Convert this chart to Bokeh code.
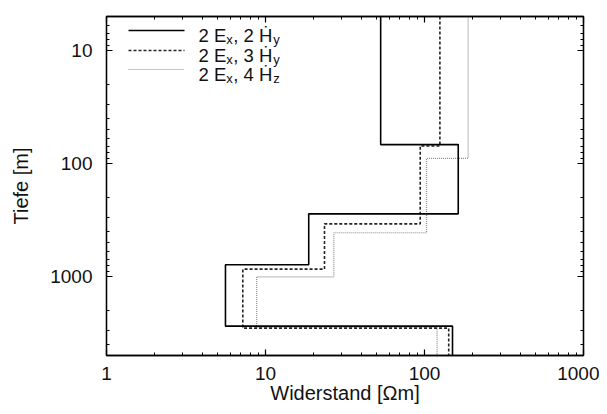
import math
from bokeh.plotting import figure
from bokeh.models import Range1d, FixedTicker, LogAxis, BasicTickFormatter
from bokeh.embed import file_html
from bokeh.resources import INLINE
from bokeh.core.properties import value

# ---------------- data ----------------
# layered resistivity models: layer resistivities [Ohm m] and layer boundaries [m]
rho_22 = [53, 163, 18.7, 5.6, 150]        # 2 Ex, 2 Hy  (solid)
depth_22 = [68, 279, 788, 2750]
rho_23 = [125, 94, 23.5, 7.2, 142]        # 2 Ex, 3 Hy  (dashed)
depth_23 = [70, 342, 861, 2865]
rho_24 = [188, 103, 26.9, 8.8, 120]       # 2 Ex, 4 Hz  (dotted)
depth_24 = [90, 410, 1007, 2812]

legend_main1 = ["2 E", "2 E", "2 E"]
legend_sub1 = ["x", "x", "x"]
legend_main2 = [", 2 \u1E22", ", 3 \u1E22", ", 4 \u1E22"]
legend_sub2 = ["y", "y", "z"]

x_ticks = [1, 10, 100, 1000]
y_ticks = [10, 100, 1000]
x_minor = [2, 3, 4, 5, 6, 7, 8, 9, 20, 30, 40, 50, 60, 70, 80, 90,
           200, 300, 400, 500, 600, 700, 800, 900]
y_minor = [5, 6, 7, 8, 9, 20, 30, 40, 50, 60, 70, 80, 90,
           200, 300, 400, 500, 600, 700, 800, 900, 2000, 3000, 4000, 5000]
X_RANGE = (1, 1000)
Y_RANGE = (5, 5000)   # depth, top to bottom

x_title = "Widerstand [\u03A9m]"
y_title = "Tiefe [m]"

# ---------------- figure ----------------
FONT = "Liberation Sans"
W, H = 599, 406
ML, MR, MT, MB = 106, 16, 16, 51
FW, FH = W - ML - MR, H - MT - MB

p = figure(width=W, height=H, output_backend="svg", toolbar_location=None,
           x_axis_type="log", y_axis_type="log",
           x_range=Range1d(*X_RANGE), y_range=Range1d(Y_RANGE[1], Y_RANGE[0]),
           min_border_left=ML, min_border_right=MR, min_border_top=MT,
           min_border_bottom=MB)
p.background_fill_color = "white"
p.border_fill_color = "white"
p.outline_line_color = "black"
p.outline_line_width = 1.3
p.grid.visible = False


def step(rho, depth):
    d = [Y_RANGE[0]] + list(depth) + [Y_RANGE[1]]
    xs, ys = [], []
    for i, r in enumerate(rho):
        xs += [r, r]
        ys += [d[i], d[i + 1]]
    return xs, ys


xs, ys = step(rho_24, depth_24)
p.line(xs, ys, line_color="#8a8a8a", line_width=1.2, line_dash="1 1")
xs, ys = step(rho_23, depth_23)
p.line(xs, ys, line_color="#222222", line_width=1.6, line_dash="3 2")
xs, ys = step(rho_22, depth_22)
p.line(xs, ys, line_color="black", line_width=1.6)


# ---------------- axes ----------------
def style_axis(ax, ticks, minor, show_labels):
    ax.ticker = FixedTicker(ticks=ticks, minor_ticks=minor)
    ax.formatter = BasicTickFormatter()
    ax.major_tick_in = 6
    ax.major_tick_out = 0
    ax.minor_tick_in = 3
    ax.minor_tick_out = 0
    ax.axis_line_color = "black"
    ax.axis_line_width = 1.3
    ax.major_tick_line_width = 1.2
    ax.minor_tick_line_width = 1.0
    ax.major_label_text_font = FONT
    ax.major_label_text_font_size = "19px"
    ax.major_label_text_color = "#111111" if show_labels else None
    ax.axis_label_text_font = FONT
    ax.axis_label_text_font_style = "normal"
    ax.axis_label_text_font_size = "20px"
    ax.axis_label_text_color = "#111111"


style_axis(p.xaxis[0], x_ticks, x_minor, True)
style_axis(p.yaxis[0], y_ticks, y_minor, True)
p.xaxis[0].axis_label = x_title
p.yaxis[0].axis_label = y_title
p.xaxis[0].major_label_standoff = 11
p.xaxis[0].axis_label_standoff = -1
p.yaxis[0].major_label_standoff = 14
p.yaxis[0].axis_label_standoff = 15

top = LogAxis()
style_axis(top, x_ticks, x_minor, False)
top.major_label_standoff = 0
right = LogAxis()
style_axis(right, y_ticks, y_minor, False)
right.major_label_standoff = 0
p.add_layout(top, "above")
p.add_layout(right, "right")


# ---------------- legend (manual, for sub-/dot-accented labels) ----------------
def fx(px):
    a, b = math.log10(X_RANGE[0]), math.log10(X_RANGE[1])
    return 10 ** (a + px / FW * (b - a))


def fy(py):
    a, b = math.log10(Y_RANGE[0]), math.log10(Y_RANGE[1])
    return 10 ** (a + py / FH * (b - a))


row_py = [14, 34, 53]           # sample-line rows, px below frame top
styles = [dict(line_color="black", line_width=1.6),
          dict(line_color="#222222", line_width=1.6, line_dash="3 2"),
          dict(line_color="#8a8a8a", line_width=1.2, line_dash="1 1")]
for r, st in zip(row_py, styles):
    p.line([fx(22), fx(78)], [fy(r), fy(r)], **st)

base = [r + 5 for r in row_py]
sub = [b + 4 for b in base]
x0 = 92
w_main1 = 27.8
w_sub = 7.0
w_main2 = 40.0

common = dict(text_font=value(FONT), text_color="#111111",
              text_align="left", text_baseline="alphabetic")
p.text([fx(x0)] * 3, [fy(b) for b in base], text=legend_main1,
       text_font_size="18.5px", **common)
p.text([fx(x0 + w_main1)] * 3, [fy(s) for s in sub], text=legend_sub1,
       text_font_size="13px", **common)
p.text([fx(x0 + w_main1 + w_sub)] * 3, [fy(b) for b in base], text=legend_main2,
       text_font_size="18.5px", **common)
p.text([fx(x0 + w_main1 + w_sub + w_main2)] * 3, [fy(s) for s in sub],
       text=legend_sub2, text_font_size="13px", **common)

open("out.html", "w").write(file_html(p, INLINE))
